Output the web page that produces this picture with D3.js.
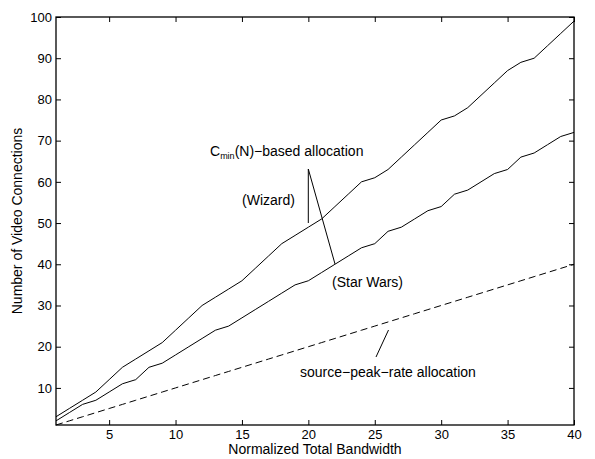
<!doctype html>
<html lang="en">
<head>
  <meta charset="utf-8">
  <script src="https://d3js.org/d3.v7.min.js"></script>
  <style>
    body { margin: 0; background: #fff; }
    text { font-family: "Liberation Sans", Arial, sans-serif; }
  </style>
</head>
<body>
  <script>
    // normalized total bandwidth, 1..40
    var bandwidth = [1,2,3,4,5,6,7,8,9,10,11,12,13,14,15,16,17,18,19,20,
                     21,22,23,24,25,26,27,28,29,30,31,32,33,34,35,36,37,38,39,40];
    // Cmin(N)-based allocation, Wizard
    var wizard = [3,5,7,9,12,15,17,19,21,24,27,30,32,34,36,39,42,45,47,49,
                  51,54,57,60,61,63,66,69,72,75,76,78,81,84,87,89,90,93,96,99];
    // Cmin(N)-based allocation, Star Wars
    var starWars = [2,4,6,7,9,11,12,15,16,18,20,22,24,25,27,29,31,33,35,36,
                    38,40,42,44,45,48,49,51,53,54,57,58,60,62,63,66,67,69,71,72];
    // source-peak-rate allocation
    var peakRate = [1,2,3,4,5,6,7,8,9,10,11,12,13,14,15,16,17,18,19,20,
                    21,22,23,24,25,26,27,28,29,30,31,32,33,34,35,36,37,38,39,40];
    var xTicks = [5,10,15,20,25,30,35,40];
    var yTicks = [10,20,30,40,50,60,70,80,90,100];

    var width = 595, height = 459;
    // plot box (note: "top" is reserved on window, so use other names)
    var plotL = 56, plotR = 574, plotT = 17, plotB = 425;

    var svg = d3.select("body").append("svg")
        .attr("width", width)
        .attr("height", height);

    var x = d3.scaleLinear().domain([1, 40]).range([plotL, plotR]);
    var y = d3.scaleLinear().domain([1, 100]).range([plotB, plotT]);

    // axes with inward ticks
    function styleAxis(g) {
      g.select(".domain").remove();
      g.selectAll("line").attr("stroke", "#000");
      g.selectAll("text").attr("font-size", 13).attr("fill", "#000")
        .style("font-family", "'Liberation Sans', Arial, sans-serif");
    }
    svg.append("g").attr("transform", "translate(0," + plotB + ")")
      .call(d3.axisBottom(x).tickValues(xTicks).tickSize(-5).tickPadding(5).tickFormat(d3.format("d")))
      .call(styleAxis);
    svg.append("g").attr("transform", "translate(0," + plotT + ")")
      .call(d3.axisTop(x).tickValues(xTicks).tickSize(-5).tickFormat(""))
      .call(styleAxis);
    svg.append("g").attr("transform", "translate(" + plotL + ",0)")
      .call(d3.axisLeft(y).tickValues(yTicks).tickSize(-5).tickPadding(4).tickFormat(d3.format("d")))
      .call(styleAxis);
    svg.append("g").attr("transform", "translate(" + plotR + ",0)")
      .call(d3.axisRight(y).tickValues(yTicks).tickSize(-5).tickFormat(""))
      .call(styleAxis);

    // frame
    svg.append("rect")
      .attr("x", plotL).attr("y", plotT)
      .attr("width", plotR - plotL).attr("height", plotB - plotT)
      .attr("fill", "none").attr("stroke", "#000").attr("stroke-width", 1.3);

    var line = d3.line()
      .x(function(d, i) { return x(bandwidth[i]); })
      .y(function(d) { return y(d); });

    svg.append("path").datum(wizard)
      .attr("d", line).attr("fill", "none").attr("stroke", "#000").attr("stroke-width", 1);
    svg.append("path").datum(starWars)
      .attr("d", line).attr("fill", "none").attr("stroke", "#000").attr("stroke-width", 1);
    svg.append("path").datum(peakRate)
      .attr("d", line).attr("fill", "none").attr("stroke", "#000").attr("stroke-width", 1)
      .attr("stroke-dasharray", "7,4");

    // annotations
    var label = svg.append("text").attr("x", 210).attr("y", 156).attr("font-size", 14);
    label.append("tspan").text("C");
    label.append("tspan").attr("font-size", 9).attr("dy", 3).text("min");
    label.append("tspan").attr("dy", -3).text("(N)\u2212based allocation");

    svg.append("text").attr("x", 242).attr("y", 205).attr("font-size", 14).text("(Wizard)");
    svg.append("text").attr("x", 332).attr("y", 287).attr("font-size", 14).text("(Star Wars)");
    svg.append("text").attr("x", 300).attr("y", 377).attr("font-size", 14)
      .text("source\u2212peak\u2212rate allocation");

    svg.append("line").attr("x1", 308.3).attr("y1", 169).attr("x2", 308.3).attr("y2", 223)
      .attr("stroke", "#000");
    svg.append("line").attr("x1", 308.3).attr("y1", 169).attr("x2", 335).attr("y2", 264)
      .attr("stroke", "#000");
    svg.append("line").attr("x1", 388.5).attr("y1", 330).attr("x2", 376).attr("y2", 357)
      .attr("stroke", "#000");

    // axis titles
    svg.append("text").attr("x", 315).attr("y", 454).attr("text-anchor", "middle")
      .attr("font-size", 14).text("Normalized Total Bandwidth");
    svg.append("text").attr("transform", "translate(22,221) rotate(-90)")
      .attr("text-anchor", "middle").attr("font-size", 14).text("Number of Video Connections");
  </script>
</body>
</html>
